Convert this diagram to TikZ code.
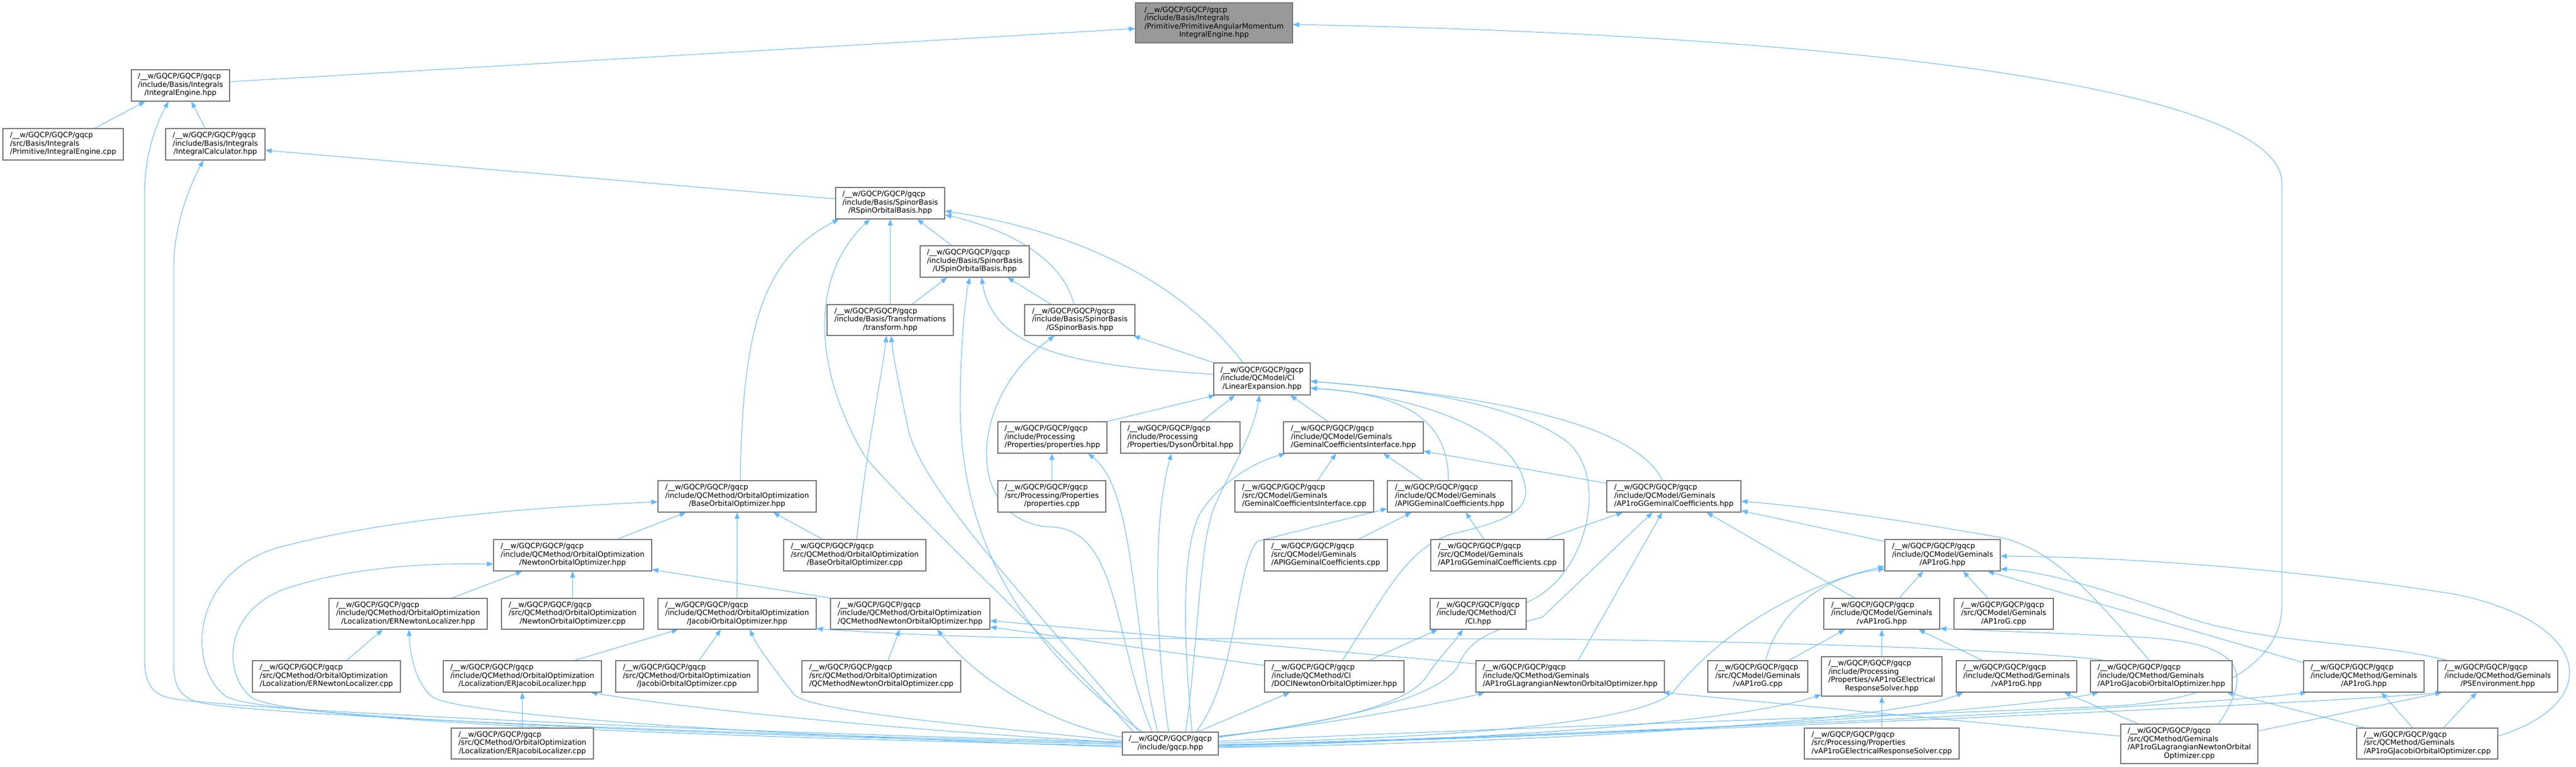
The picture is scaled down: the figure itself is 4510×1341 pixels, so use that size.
\documentclass[tikz,border=0pt]{standalone}
\usepackage{fontspec}
\setmainfont{DejaVu Sans}
\usetikzlibrary{arrows.meta,calc}
\definecolor{edgeblue}{HTML}{63B8FF}
\definecolor{nodeborder}{HTML}{777777}
\definecolor{rootgray}{HTML}{999999}
\newcommand\gq{/\_\_w/GQCP/GQCP/gqcp}
\newcommand\tb[1]{\begin{tabular}{@{}l@{}}#1\end{tabular}}
\newcommand\cl[1]{\multicolumn{1}{@{}c@{}}{#1}}
\newcommand\nodefont{\fontsize{12.8}{14.5}\selectfont}
\newcommand\gn[7][]{\node[box,#1,minimum width=#5pt,minimum height=#6pt] (#2) at (#3,#4) {\tb{#7}};}
\pgfdeclarelayer{bg}
\pgfsetlayers{bg,main}
\tikzset{
  box/.style={draw=nodeborder, line width=1.2pt, fill=white, inner sep=0pt, font=\nodefont, text=black},
  root/.style={fill=rootgray},
  e/.style={draw=edgeblue, line width=1pt, -{Triangle[length=11pt,width=8.5pt]}},
}
\begin{document}
\begin{tikzpicture}[x=1pt,y=-1pt]
\useasboundingbox (0,0) rectangle (4510,1341);
% ---------------- nodes ----------------
\gn[root]{T}{2125.5}{40}{275}{70}{\gq\\/include/Basis/Integrals\\/Primitive/PrimitiveAngularMomentum\\\cl{IntegralEngine.hpp}}
\gn{IEh}{316}{149.5}{172}{55}{\gq\\/include/Basis/Integrals\\\cl{/IntegralEngine.hpp}}
\gn{IEc}{110.5}{252.5}{211}{55}{\gq\\/src/Basis/Integrals\\\cl{/Primitive/IntegralEngine.cpp}}
\gn{ICh}{377}{252.5}{174}{55}{\gq\\/include/Basis/Integrals\\\cl{/IntegralCalculator.hpp}}
\gn{RSOB}{1558.5}{355.5}{191}{55}{\gq\\/include/Basis/SpinorBasis\\\cl{/RSpinOrbitalBasis.hpp}}
\gn{USOB}{1706.5}{457.5}{191}{55}{\gq\\/include/Basis/SpinorBasis\\\cl{/USpinOrbitalBasis.hpp}}
\gn{TR}{1558.5}{560}{221}{54}{\gq\\/include/Basis/Transformations\\\cl{/transform.hpp}}
\gn{GSB}{1890.5}{560}{193}{54}{\gq\\/include/Basis/SpinorBasis\\\cl{/GSpinorBasis.hpp}}
\gn{LE}{2209.5}{663}{169}{56}{\gq\\/include/QCModel/CI\\\cl{/LinearExpansion.hpp}}
\gn{PRh}{1842.5}{765.5}{191}{55}{\gq\\/include/Processing\\\cl{/Properties/properties.hpp}}
\gn{DY}{2066.5}{765.5}{209}{55}{\gq\\/include/Processing\\\cl{/Properties/DysonOrbital.hpp}}
\gn{GCI}{2369.5}{765.5}{245}{55}{\gq\\/include/QCModel/Geminals\\\cl{/GeminalCoefficientsInterface.hpp}}
\gn{BOOh}{1290.5}{868.5}{277}{55}{\gq\\/include/QCMethod/OrbitalOptimization\\\cl{/BaseOrbitalOptimizer.hpp}}
\gn{PRc}{1841.5}{868.5}{189}{55}{\gq\\/src/Processing/Properties\\\cl{/properties.cpp}}
\gn{GCIc}{2283.5}{868.5}{243}{55}{\gq\\/src/QCModel/Geminals\\\cl{/GeminalCoefficientsInterface.cpp}}
\gn{APIGh}{2538}{868.5}{218}{55}{\gq\\/include/QCModel/Geminals\\\cl{/APIGGeminalCoefficients.hpp}}
\gn{AGCh}{2930.5}{868.5}{235}{55}{\gq\\/include/QCModel/Geminals\\\cl{/AP1roGGeminalCoefficients.hpp}}
\gn{NOOh}{1002.5}{971.5}{277}{55}{\gq\\/include/QCMethod/OrbitalOptimization\\\cl{/NewtonOrbitalOptimizer.hpp}}
\gn{BOOc}{1496.5}{971.5}{249}{55}{\gq\\/src/QCMethod/OrbitalOptimization\\\cl{/BaseOrbitalOptimizer.cpp}}
\gn{APIGc}{2321}{971.5}{216}{55}{\gq\\/src/QCModel/Geminals\\\cl{/APIGGeminalCoefficients.cpp}}
\gn{AGCc}{2621.5}{971.5}{233}{55}{\gq\\/src/QCModel/Geminals\\\cl{/AP1roGGeminalCoefficients.cpp}}
\gn{AP1h}{3401}{971.5}{202}{55}{\gq\\/include/QCModel/Geminals\\\cl{/AP1roG.hpp}}
\gn{ERNh}{714.5}{1074}{277}{54}{\gq\\/include/QCMethod/OrbitalOptimization\\\cl{/Localization/ERNewtonLocalizer.hpp}}
\gn{NOOc}{1002.5}{1074}{249}{54}{\gq\\/src/QCMethod/OrbitalOptimization\\\cl{/NewtonOrbitalOptimizer.cpp}}
\gn{JOOh}{1290.5}{1074}{277}{54}{\gq\\/include/QCMethod/OrbitalOptimization\\\cl{/JacobiOrbitalOptimizer.hpp}}
\gn{QNOOh}{1593.5}{1074}{279}{54}{\gq\\/include/QCMethod/OrbitalOptimization\\\cl{/QCMethodNewtonOrbitalOptimizer.hpp}}
\gn{CIh}{2588}{1074}{168}{54}{\gq\\/include/QCMethod/CI\\\cl{/CI.hpp}}
\gn{vAPh}{3294.5}{1074}{203}{54}{\gq\\/include/QCModel/Geminals\\\cl{/vAP1roG.hpp}}
\gn{AP1c}{3508}{1074}{174}{54}{\gq\\/src/QCModel/Geminals\\\cl{/AP1roG.cpp}}
\gn{ERNc}{571.5}{1183.5}{259}{55}{\gq\\/src/QCMethod/OrbitalOptimization\\\cl{/Localization/ERNewtonLocalizer.cpp}}
\gn{ERJh}{914.5}{1183.5}{277}{55}{\gq\\/include/QCMethod/OrbitalOptimization\\\cl{/Localization/ERJacobiLocalizer.hpp}}
\gn{JOOc}{1202.5}{1183.5}{249}{55}{\gq\\/src/QCMethod/OrbitalOptimization\\\cl{/JacobiOrbitalOptimizer.cpp}}
\gn{QNOOc}{1543}{1183.5}{278}{55}{\gq\\/src/QCMethod/OrbitalOptimization\\\cl{/QCMethodNewtonOrbitalOptimizer.cpp}}
\gn{DOCI}{2336}{1183.5}{244}{55}{\gq\\/include/QCMethod/CI\\\cl{/DOCINewtonOrbitalOptimizer.hpp}}
\gn{ALNh}{2749}{1183.5}{330}{55}{\gq\\/include/QCMethod/Geminals\\\cl{/AP1roGLagrangianNewtonOrbitalOptimizer.hpp}}
\gn{vAPc}{3077.5}{1183.5}{175}{55}{\gq\\/src/QCModel/Geminals\\\cl{/vAP1roG.cpp}}
\gn{vERh}{3294.5}{1183.5}{211}{69}{\gq\\/include/Processing\\/Properties/vAP1roGElectrical\\\cl{ResponseSolver.hpp}}
\gn{MvAPh}{3530.5}{1183.5}{211}{55}{\gq\\/include/QCMethod/Geminals\\\cl{/vAP1roG.hpp}}
\gn{AJOh}{3784}{1183.5}{248}{55}{\gq\\/include/QCMethod/Geminals\\\cl{/AP1roGJacobiOrbitalOptimizer.hpp}}
\gn{MAP1h}{4138.5}{1183.5}{211}{55}{\gq\\/include/QCMethod/Geminals\\\cl{/AP1roG.hpp}}
\gn{PSE}{4373}{1183.5}{210}{55}{\gq\\/include/QCMethod/Geminals\\\cl{/PSEnvironment.hpp}}
\gn{ERJc}{914.5}{1301}{249}{54}{\gq\\/src/QCMethod/OrbitalOptimization\\\cl{/Localization/ERJacobiLocalizer.cpp}}
\gn{GQ}{2049}{1301}{168}{40}{\gq\\\cl{/include/gqcp.hpp}}
\gn{vERc}{3294.5}{1301}{271}{54}{\gq\\/src/Processing/Properties\\\cl{/vAP1roGElectricalResponseSolver.cpp}}
\gn{ALNc}{3833}{1301.5}{240}{69}{\gq\\/src/QCMethod/Geminals\\/AP1roGLagrangianNewtonOrbital\\\cl{Optimizer.cpp}}
\gn{AJOc}{4249.5}{1301}{247}{54}{\gq\\/src/QCMethod/Geminals\\\cl{/AP1roGJacobiOrbitalOptimizer.cpp}}
% ---------------- edges ----------------
\begin{pgfonlayer}{bg}
% T
\draw[e] ($(IEh.east)+(0,-6.5)$) -- ($(T.west)+(0,10)$);
\draw[e] ($(GQ.east)+(0,-4)$) .. controls (2700,1270) and (3400,1250) .. (3700,1235) .. controls (3900,1225) and (3995,1150) .. (3995,1060) -- (3995,320) .. controls (3995,150) and (3200,60) .. ($(T.east)+(0,3)$);
% IEh
\draw[e] ($(IEc.north)+(55.5,0)$) -- ($(IEh.south)+(-62,0)$);
\draw[e] ($(ICh.north)+(-18,0)$) -- ($(IEh.south)+(19,0)$);
\draw[e] ($(GQ.west)+(0,-3)$) .. controls (1200,1280) and (400,1240) .. (300,1222) .. controls (262,1214) and (253,1190) .. (253,1150) -- (253,340) .. controls (253,260) and (280,205) .. ($(IEh.south)+(-21,0)$);
% ICh
\draw[e] ($(RSOB.west)+(0,-7.5)$) -- ($(ICh.east)+(0,10.5)$);
\draw[e] ($(GQ.west)+(0,-1)$) .. controls (1200,1283) and (420,1250) .. (345,1228) .. controls (312,1218) and (304,1195) .. (304,1160) -- (304,470) .. controls (304,390) and (335,320) .. ($(ICh.south)+(-21,0)$);
% RSOB
\draw[e] ($(BOOh.north)+(5.5,0)$) .. controls (1300,560) and (1340,450) .. ($(RSOB.south)+(-90,0)$);
\draw[e] ($(GQ.north west)+(20,0)$) .. controls (1820,1100) and (1600,900) .. (1515,800) .. controls (1420,640) and (1420,480) .. ($(RSOB.south)+(-35.5,0)$);
\draw[e] (TR.north) -- (RSOB.south);
\draw[e] ($(USOB.north)+(-40.5,0)$) -- ($(RSOB.south)+(47.5,0)$);
\draw[e] ($(GSB.north)+(-10.5,0)$) .. controls (1860,450) and (1760,400) .. ($(RSOB.east)+(0,20.5)$);
\draw[e] ($(LE.north)+(-33.5,0)$) .. controls (2050,470) and (1850,400) .. ($(RSOB.east)+(0,13.5)$);
% USOB
\draw[e] ($(TR.north)+(38.5,0)$) -- ($(USOB.south)+(-48.5,0)$);
\draw[e] ($(GQ.north west)+(35,0)$) .. controls (1750,1100) and (1680,900) .. (1681,700) .. controls (1682,600) and (1690,520) .. ($(USOB.south)+(-8.5,0)$);
\draw[e] ($(LE.west)+(0,-8)$) .. controls (1900,640) and (1740,620) .. ($(USOB.south)+(12,0)$);
\draw[e] ($(GSB.north)+(-50.5,0)$) -- ($(USOB.south)+(57.5,0)$);
% TR
\draw[e] ($(BOOc.north)+(3.5,0)$) .. controls (1515,800) and (1545,650) .. ($(TR.south)+(-6.5,0)$);
\draw[e] ($(GQ.north west)+(30,0)$) .. controls (1800,1050) and (1610,850) .. (1590,750) .. controls (1575,680) and (1565,630) .. ($(TR.south)+(1.5,0)$);
% GSB
\draw[e] ($(GQ.north)+(-32,0)$) .. controls (1950,1120) and (1960,925) .. (1840,922) .. controls (1690,915) and (1690,700) .. ($(GSB.south)+(-44.5,0)$);
\draw[e] (LE.north west) -- ($(GSB.south east)+(-3,0)$);
% LE
\draw[e] (PRh.north east) -- ($(LE.south west)+(3,0)$);
\draw[e] ($(DY.north)+(37.5,0)$) -- ($(LE.south)+(-47.5,0)$);
\draw[e] ($(GCI.north)+(-44.5,0)$) -- ($(LE.south)+(49.5,0)$);
\draw[e] ($(GQ.north)+(27,0)$) .. controls (2100,1100) and (2100,950) .. (2126,887) .. controls (2150,830) and (2195,760) .. ($(LE.south)+(-4.5,0)$);
\draw[e] ($(APIGh.north)+(-2,0)$) .. controls (2535,740) and (2470,690) .. ($(LE.east)+(0,16)$);
\draw[e] ($(DOCI.north)+(14,0)$) .. controls (2420,1050) and (2460,960) .. (2540,935) .. controls (2620,915) and (2680,900) .. (2670,850) .. controls (2650,740) and (2450,690) .. ($(LE.east)+(0,16)$);
\draw[e] ($(AGCh.north)+(-20,0)$) .. controls (2870,760) and (2700,700) .. ($(LE.east)+(0,4)$);
\draw[e] ($(CIh.east)+(0,-20)$) .. controls (2780,1010) and (2820,830) .. (2740,770) .. controls (2640,700) and (2450,680) .. ($(LE.east)+(0,4)$);
% PRh, DY, GCI
\draw[e] (PRc.north) -- (PRc.north |- PRh.south);
\draw[e] ($(GQ.north)+(-22,0)$) .. controls (1980,1100) and (1990,860) .. ($(PRh.south)+(62.5,0)$);
\draw[e] ($(GQ.north)+(-3,0)$) .. controls (2020,1100) and (2020,900) .. ($(DY.south)+(-15.5,0)$);
\draw[e] ($(GQ.north)+(38,0)$) .. controls (2070,1100) and (2070,960) .. (2100,900) .. controls (2130,850) and (2190,810) .. ($(GCI.south west)+(4,0)$);
\draw[e] ($(GCIc.north)+(23.5,0)$) -- ($(GCI.south)+(-30.5,0)$);
\draw[e] ($(APIGh.north)+(-47,0)$) -- ($(GCI.south)+(52.5,0)$);
\draw[e] ($(AGCh.north west)+(0,5)$) -- ($(GCI.south east)+(0,-4)$);
% APIGh
\draw[e] ($(GQ.north)+(45,0)$) .. controls (2170,1180) and (2160,1000) .. (2201,947) -- ($(APIGh.west)+(0,21.5)$);
\draw[e] ($(APIGc.north)+(58,0)$) -- ($(APIGh.south)+(-67,0)$);
\draw[e] ($(AGCc.north)+(-23.5,0)$) -- ($(APIGh.south)+(28,0)$);
% AGCh
\draw[e] ($(AGCc.north)+(84.5,0)$) -- ($(AGCh.south)+(-89.5,0)$);
\draw[e] ($(GQ.east)+(0,-11)$) .. controls (2350,1260) and (2530,1220) .. (2555,1160) .. controls (2575,1115) and (2620,1100) .. (2700,1080) -- ($(AGCh.south)+(-37.5,0)$);
\draw[e] ($(ALNh.north)+(14,0)$) -- ($(AGCh.south)+(-20.5,0)$);
\draw[e] ($(vAPh.north)+(-47.5,0)$) -- ($(AGCh.south)+(57.5,0)$);
\draw[e] ($(AP1h.north west)+(0,4)$) -- ($(AGCh.south east)+(0,-3)$);
\draw[e] ($(AJOh.north)+(-21,0)$) .. controls (3680,1060) and (3600,960) .. (3500,940) .. controls (3300,905) and (3150,885) .. ($(AGCh.east)+(0,8.5)$);
% AP1h
\draw[e] ($(GQ.east)+(0,-1)$) .. controls (2600,1290) and (2880,1260) .. (2930,1210) .. controls (3000,1120) and (3130,1030) .. ($(AP1h.west)+(0,19.5)$);
\draw[e] ($(vAPc.north)+(14,0)$) .. controls (3110,1080) and (3180,1010) .. ($(AP1h.west)+(0,24)$);
\draw[e] ($(vAPh.north)+(30.5,0)$) -- ($(AP1h.south)+(-34,0)$);
\draw[e] ($(AP1c.north)+(-28,0)$) -- ($(AP1h.south)+(36,0)$);
\draw[e] ($(AJOc.east)+(0,-13)$) .. controls (4560,1230) and (4540,1090) .. (4300,1040) .. controls (4050,1000) and (3750,975) .. ($(AP1h.east)+(0,1.5)$);
\draw[e] ($(PSE.north)+(-89,0)$) .. controls (4150,1120) and (3950,1130) .. (3800,1070) .. controls (3680,1030) and (3580,1000) .. ($(AP1h.east)+(0,24)$);
\draw[e] ($(MAP1h.north west)+(0,4)$) -- ($(AP1h.south)+(79,0)$);
% vAPh
\draw[e] ($(vAPc.north)+(54.5,0)$) -- ($(vAPh.south)+(-64.5,0)$);
\draw[e] (vERh.north) -- (vAPh.south);
\draw[e] ($(MvAPh.north)+(-59.5,0)$) -- ($(vAPh.south)+(64.5,0)$);
\draw[e] ($(ALNc.north)+(51,0)$) .. controls (3950,1170) and (3920,1125) .. (3750,1115) .. controls (3600,1108) and (3480,1103) .. ($(vAPh.east)+(0,26)$);
% JOOh (long) and QNOOh
\draw[e] ($(AJOh.north)+(-101,0)$) .. controls (3620,1145) and (3300,1125) .. (2700,1118) -- (1900,1117) .. controls (1700,1116) and (1550,1108) .. ($(JOOh.east)+(0,26)$);
\draw[e] ($(ALNh.north west)+(0,6)$) -- ($(QNOOh.east)+(0,12)$);
\draw[e] ($(DOCI.north west)+(0,9)$) -- ($(QNOOh.east)+(0,23)$);
% vERh, MvAPh, ALNh, DOCI, CIh
\draw[e] (vERc.north) -- (vERh.south);
\draw[e] ($(GQ.east)+(0,6)$) .. controls (2700,1290) and (3050,1260) .. ($(vERh.west)+(0,32)$);
\draw[e] ($(GQ.east)+(0,7)$) .. controls (2900,1295) and (3350,1250) .. ($(MvAPh.south)+(-93.5,0)$);
\draw[e] ($(ALNc.west)+(0,-13.5)$) -- ($(ALNh.south east)+(-3,0)$);
\draw[e] ($(GQ.east)+(0,-13)$) .. controls (2350,1265) and (2550,1225) .. ($(ALNh.south)+(-150,0)$);
\draw[e] ($(GQ.north)+(48,0)$) -- ($(DOCI.south)+(-78,0)$);
\draw[e] ($(DOCI.north)+(61,0)$) -- ($(CIh.south)+(-71,0)$);
\draw[e] ($(GQ.east)+(0,-12)$) .. controls (2350,1262) and (2470,1230) .. (2500,1180) .. controls (2520,1150) and (2545,1125) .. ($(CIh.south)+(-27,0)$);
% AJOh, MAP1h, PSE
\draw[e] ($(GQ.east)+(0,2)$) .. controls (2900,1290) and (3550,1240) .. ($(AJOh.south)+(-110,0)$);
\draw[e] ($(GQ.east)+(0,3)$) .. controls (2900,1280) and (3800,1240) .. ($(MAP1h.south)+(-100,0)$);
\draw[e] ($(GQ.east)+(0,4)$) .. controls (2900,1282) and (4000,1235) .. ($(PSE.south)+(-98,0)$);
\draw[e] ($(AJOc.north)+(-109.5,0)$) -- ($(AJOh.south)+(115,0)$);
\draw[e] ($(ALNc.north)+(-90,0)$) -- ($(MvAPh.south)+(83.5,0)$);
\draw[e] ($(AJOc.north)+(-25.5,0)$) -- ($(MAP1h.south)+(30.5,0)$);
\draw[e] ($(ALNc.east)+(0,-22.5)$) -- ($(PSE.south)+(-98,0)$);
\draw[e] ($(AJOc.north)+(28.5,0)$) -- ($(PSE.south)+(-37,0)$);
% BOOh
\draw[e] ($(GQ.west)+(0,1)$) .. controls (1200,1285) and (450,1255) .. (395,1218) .. controls (330,1170) and (330,1010) .. (480,960) .. controls (700,900) and (1000,885) .. ($(BOOh.west)+(0,9.5)$);
\draw[e] ($(NOOh.north)+(77.5,0)$) -- ($(BOOh.south)+(-89.5,0)$);
\draw[e] (JOOh.north) -- (BOOh.south);
\draw[e] ($(BOOc.north)+(-56.5,0)$) -- ($(BOOh.south)+(63.5,0)$);
% NOOh
\draw[e] (NOOc.north) -- (NOOh.south);
\draw[e] (QNOOh.north west) -- ($(NOOh.south east)+(0,-3)$);
\draw[e] ($(ERNh.north)+(76.5,0)$) -- ($(NOOh.south)+(-88.5,0)$);
\draw[e] ($(GQ.west)+(0,4)$) .. controls (1200,1288) and (500,1262) .. (440,1220) .. controls (390,1180) and (390,1070) .. (500,1030) .. controls (620,990) and (760,985) .. ($(NOOh.west)+(0,15.5)$);
% ERNh, ERJh, JOOh, QNOOh
\draw[e] ($(ERNc.north)+(35.5,0)$) -- ($(ERNh.south)+(-44.5,0)$);
\draw[e] ($(GQ.west)+(0,6)$) .. controls (1300,1285) and (790,1250) .. (755,1218) .. controls (728,1192) and (718,1150) .. ($(ERNh.south)+(1.5,0)$);
\draw[e] ($(ERJh.north)+(91.5,0)$) -- ($(JOOh.south)+(-103.5,0)$);
\draw[e] ($(JOOc.north)+(21.5,0)$) -- ($(JOOh.south)+(-28.5,0)$);
\draw[e] ($(GQ.west)+(0,-5)$) .. controls (1700,1270) and (1420,1245) .. (1390,1215) .. controls (1355,1170) and (1325,1130) .. ($(JOOh.south)+(22.5,0)$);
\draw[e] ($(QNOOc.north)+(12,0)$) -- ($(QNOOh.south)+(-18.5,0)$);
\draw[e] ($(GQ.west)+(0,-11)$) .. controls (1850,1270) and (1720,1200) .. ($(QNOOh.south)+(47.5,0)$);
\draw[e] (ERJc.north) -- (ERJh.south);
\draw[e] ($(GQ.west)+(0,-2)$) .. controls (1600,1280) and (1200,1240) .. ($(ERJh.south east)+(-19,0)$);
\end{pgfonlayer}
\end{tikzpicture}
\end{document}
